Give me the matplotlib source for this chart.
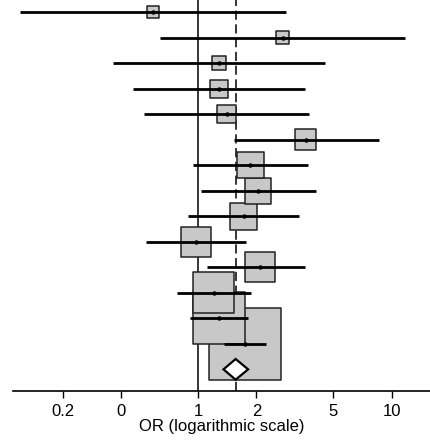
import matplotlib
matplotlib.use("Agg")
import matplotlib.pyplot as plt
import numpy as np

plt.rcParams['font.family'] = ['Liberation Sans', 'DejaVu Sans']

# study odds ratios, 95% CI and weights (%), top to bottom
est = [0.58, 2.73, 1.28, 1.275, 1.40, 3.59, 1.86, 2.04, 1.72, 0.97, 2.09, 1.20, 1.275, 1.75]
lo = [0.120, 0.636, 0.363, 0.458, 0.524, 1.53, 0.936, 1.03, 0.888, 0.539, 1.105, 0.773, 0.906, 1.36]
hi = [2.83, 11.76, 4.54, 3.56, 3.75, 8.60, 3.68, 4.06, 3.32, 1.76, 3.57, 1.87, 1.80, 2.24]
weight = [0.95, 1.12, 1.41, 2.15, 2.24, 2.92, 4.69, 4.48, 4.83, 6.12, 6.12, 11.35, 17.64, 33.96]

# pooled estimate
pooled = 1.56
pooled_lo = 1.35
pooled_hi = 1.81

tick_vals = [0.2, 0.4, 1, 2, 5, 10]
tick_labels = ['0.2', '0', '1', '2', '5', '10']

n = len(est)
rows = np.arange(1, n + 1)
summary_row = n + 1

fig = plt.figure(figsize=(4.3, 4.4), dpi=100)
ax = fig.add_axes([13 / 430, 48.7 / 440, 1 - 13 / 430, 1 - 48.7 / 440])
ax.set_xscale('log')

# reference lines (behind the boxes)
ax.axvline(1, color='black', lw=1.1, zorder=1)
ax.axvline(pooled, color='black', lw=1.1, dashes=(6, 3), zorder=1)

# boxes, bottom rows first so upper ones sit on top
sizes = np.array(weight) * 78.3
order = np.arange(n)[::-1]
ax.scatter(np.array(est)[order], rows[order], s=sizes[order], marker='s',
           facecolor='#c8c8c8', edgecolor='#222222', linewidth=1.1, zorder=2)

# confidence intervals and point estimates
ax.hlines(rows, lo, hi, color='black', lw=2, zorder=3)
ax.plot(est, rows, 'o', color='black', ms=2.2, zorder=4)

# pooled diamond
h = 0.405
dx = [pooled_lo, pooled, pooled_hi, pooled, pooled_lo]
dy = [summary_row, summary_row - h, summary_row, summary_row + h, summary_row]
ax.fill(dx, dy, facecolor='white', edgecolor='black', lw=1.6, zorder=5)

ax.set_xlim(0.110, 15.8)
ax.set_ylim(summary_row + 0.86, 1 - 0.47)

for s in ['left', 'right', 'top']:
    ax.spines[s].set_visible(False)
ax.spines['bottom'].set_linewidth(1.2)
ax.set_yticks([])
ax.set_xticks(tick_vals)
ax.set_xticklabels(tick_labels)
ax.minorticks_off()
ax.tick_params(axis='x', length=5, width=1, labelsize=12, pad=4)
ax.set_xlabel('OR (logarithmic scale)', fontsize=12, labelpad=0)

fig.savefig('out.png', dpi=100)
